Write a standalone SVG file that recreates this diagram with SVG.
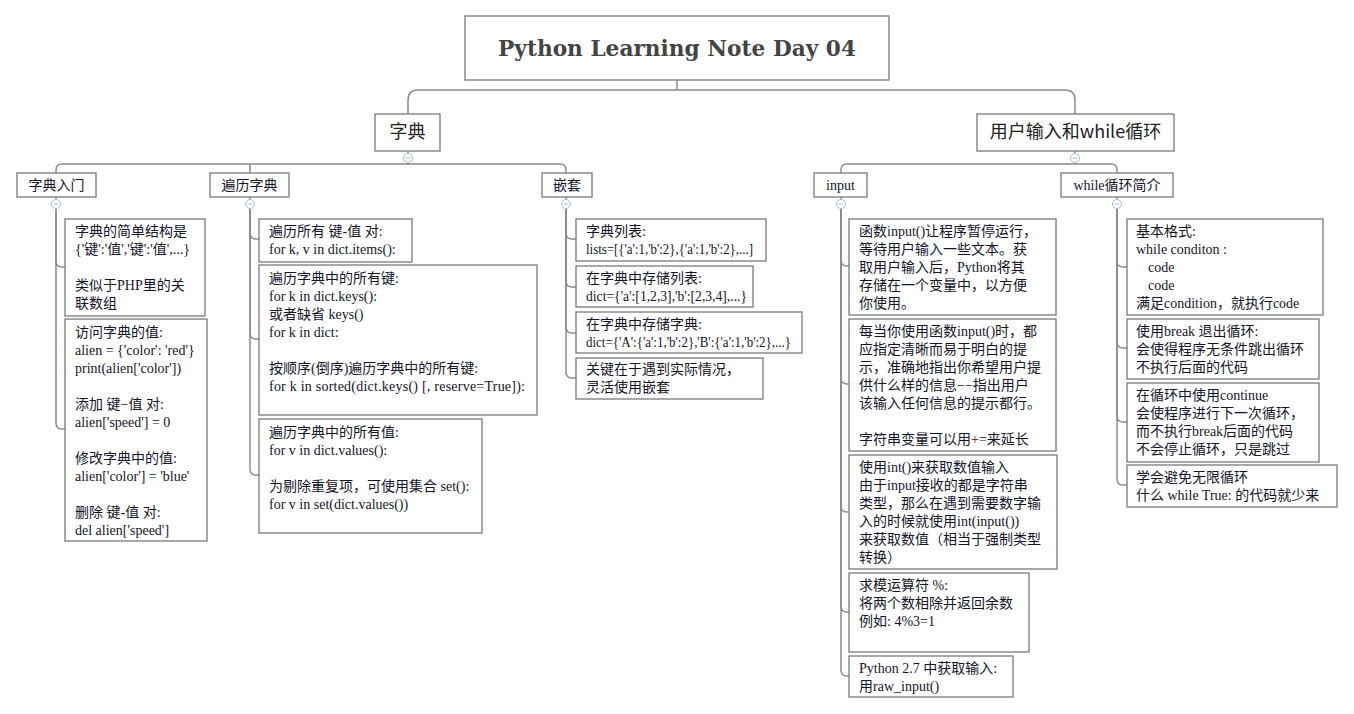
<svg xmlns="http://www.w3.org/2000/svg" width="1354" height="714" viewBox="0 0 1354 714">
<style>
.bg{fill:#fff}
.box{fill:#fff;stroke:#7a7a7a;stroke-width:1.3}
.ln{fill:none;stroke:#8c8c8c;stroke-width:1.5}
.t{font-family:"Liberation Serif","Noto Sans CJK SC",serif;font-size:14px;fill:#141428}
.h{font-family:"Noto Sans CJK SC",sans-serif;font-size:18px;fill:#222}
.title{font-family:"DejaVu Serif","Liberation Serif",serif;font-size:22px;font-weight:bold;fill:#444}
.tg{fill:#fff;stroke:#a8bcd8;stroke-width:1}
.tgm{stroke:#a8bcd8;stroke-width:1}
</style>
<rect class="bg" x="0" y="0" width="1354" height="714"/>
<g id="connectors">
<path class="ln" d="M677,80 V90"/>
<path class="ln" d="M408,114 V100 Q408,90 418,90 H1065 Q1075,90 1075,100 V114"/>
<path class="ln" d="M408,151 V164"/>
<path class="ln" d="M56,173 V170 Q56,164 62,164 H560 Q566,164 566,170 V173"/>
<path class="ln" d="M250,164 V173"/>
<path class="ln" d="M1075,151 V164"/>
<path class="ln" d="M841,173 V170 Q841,164 847,164 H1111 Q1117,164 1117,170 V173"/>
<path class="ln" d="M56,197 V209"/>
<path class="ln" d="M250,197 V209"/>
<path class="ln" d="M566,197 V209"/>
<path class="ln" d="M841,197 V209"/>
<path class="ln" d="M1117,197 V209"/>
<path class="ln" d="M56,209 V261 Q56,267 62,267 H65"/>
<path class="ln" d="M56,209 V423 Q56,429 62,429 H65"/>
<path class="ln" d="M250,209 V233 Q250,239 256,239 H259"/>
<path class="ln" d="M250,209 V333 Q250,339 256,339 H259"/>
<path class="ln" d="M250,209 V469 Q250,475 256,475 H259"/>
<path class="ln" d="M566,209 V233 Q566,239 572,239 H576"/>
<path class="ln" d="M566,209 V281 Q566,287 572,287 H576"/>
<path class="ln" d="M566,209 V327 Q566,333 572,333 H576"/>
<path class="ln" d="M566,209 V372 Q566,378 572,378 H576"/>
<path class="ln" d="M841,209 V260 Q841,266 847,266 H849"/>
<path class="ln" d="M841,209 V378 Q841,384 847,384 H849"/>
<path class="ln" d="M841,209 V506 Q841,512 847,512 H849"/>
<path class="ln" d="M841,209 V606 Q841,612 847,612 H849"/>
<path class="ln" d="M841,209 V670 Q841,676 847,676 H849"/>
<path class="ln" d="M1117,209 V261 Q1117,267 1123,267 H1127"/>
<path class="ln" d="M1117,209 V342 Q1117,348 1123,348 H1127"/>
<path class="ln" d="M1117,209 V416 Q1117,422 1123,422 H1127"/>
<path class="ln" d="M1117,209 V479 Q1117,485 1123,485 H1127"/>
</g>
<g id="toggles">
<circle class="tg" cx="408" cy="158" r="4.5"/><path class="tgm" d="M405.5,158 H410.5"/>
<circle class="tg" cx="1075" cy="158" r="4.5"/><path class="tgm" d="M1072.5,158 H1077.5"/>
<circle class="tg" cx="56" cy="204" r="4.5"/><path class="tgm" d="M53.5,204 H58.5"/>
<circle class="tg" cx="250" cy="204" r="4.5"/><path class="tgm" d="M247.5,204 H252.5"/>
<circle class="tg" cx="566" cy="204" r="4.5"/><path class="tgm" d="M563.5,204 H568.5"/>
<circle class="tg" cx="841" cy="204" r="4.5"/><path class="tgm" d="M838.5,204 H843.5"/>
<circle class="tg" cx="1117" cy="204" r="4.5"/><path class="tgm" d="M1114.5,204 H1119.5"/>
</g>
<g id="root">
<rect class="box" x="465" y="16" width="424" height="64"/>
<text class="title" x="677" y="56" text-anchor="middle" textLength="358" lengthAdjust="spacingAndGlyphs">Python Learning Note Day 04</text>
</g>
<g id="dict">
<rect class="box" x="375" y="114" width="65" height="37"/>
<text class="h" x="407.5" y="138" text-anchor="middle">字典</text>
</g>
<g id="userinput">
<rect class="box" x="977" y="114" width="197" height="37"/>
<text class="h" x="1075.5" y="138" text-anchor="middle">用户输入和while循环</text>
</g>
<g id="dict-intro">
<rect class="box" x="17" y="173" width="79" height="24"/>
<text class="t" x="56.5" y="190" text-anchor="middle">字典入门</text>
</g>
<g id="dict-iter">
<rect class="box" x="210" y="173" width="79" height="24"/>
<text class="t" x="249.5" y="190" text-anchor="middle">遍历字典</text>
</g>
<g id="nesting">
<rect class="box" x="542" y="173" width="50" height="24"/>
<text class="t" x="567" y="190" text-anchor="middle">嵌套</text>
</g>
<g id="input">
<rect class="box" x="814" y="173" width="53" height="24"/>
<text class="t" x="840.5" y="190" text-anchor="middle">input</text>
</g>
<g id="while">
<rect class="box" x="1061" y="173" width="112" height="24"/>
<text class="t" x="1117" y="190" text-anchor="middle">while循环简介</text>
</g>
<g id="intro-1">
<rect class="box" x="65" y="219" width="140" height="97"/>
<text class="t"><tspan x="75" y="236">字典的简单结构是</tspan><tspan x="75" y="254">{'键':'值','键':'值',...}</tspan><tspan x="75" y="290">类似于PHP里的关</tspan><tspan x="75" y="308">联数组</tspan></text>
</g>
<g id="intro-2">
<rect class="box" x="65" y="319" width="142" height="222"/>
<text class="t"><tspan x="75" y="337">访问字典的值:</tspan><tspan x="75" y="355">alien = {'color': 'red'}</tspan><tspan x="75" y="373">print(alien['color'])</tspan><tspan x="75" y="409">添加 键−值 对:</tspan><tspan x="75" y="427">alien['speed'] = 0</tspan><tspan x="75" y="463">修改字典中的值:</tspan><tspan x="75" y="481">alien['color'] = 'blue'</tspan><tspan x="75" y="517">删除 键-值 对:</tspan><tspan x="75" y="535">del alien['speed']</tspan></text>
</g>
<g id="iter-1">
<rect class="box" x="259" y="219" width="153" height="43"/>
<text class="t"><tspan x="269" y="236">遍历所有 键-值 对:</tspan><tspan x="269" y="254">for k, v in dict.items():</tspan></text>
</g>
<g id="iter-2">
<rect class="box" x="259" y="265" width="278" height="150"/>
<text class="t"><tspan x="269" y="283">遍历字典中的所有键:</tspan><tspan x="269" y="301">for k in dict.keys():</tspan><tspan x="269" y="319">或者缺省 keys()</tspan><tspan x="269" y="337">for k in dict:</tspan><tspan x="269" y="373">按顺序(倒序)遍历字典中的所有键:</tspan></text>
<text class="t" x="269" y="391" textLength="256" lengthAdjust="spacing">for k in sorted(dict.keys() [, reserve=True]):</text>
</g>
<g id="iter-3">
<rect class="box" x="259" y="419" width="223" height="114"/>
<text class="t"><tspan x="269" y="437">遍历字典中的所有值:</tspan><tspan x="269" y="455">for v in dict.values():</tspan><tspan x="269" y="491">为剔除重复项，可使用集合 set():</tspan><tspan x="269" y="509">for v in set(dict.values())</tspan></text>
</g>
<g id="nest-1">
<rect class="box" x="576" y="219" width="190" height="42"/>
<text class="t"><tspan x="586" y="236">字典列表:</tspan></text>
<text class="t" x="586" y="254" textLength="167" lengthAdjust="spacingAndGlyphs">lists=[{'a':1,'b':2},{'a':1,'b':2},...]</text>
</g>
<g id="nest-2">
<rect class="box" x="576" y="266" width="177" height="41"/>
<text class="t"><tspan x="586" y="283">在字典中存储列表:</tspan></text>
<text class="t" x="586" y="301" textLength="161" lengthAdjust="spacingAndGlyphs">dict={'a':[1,2,3],'b':[2,3,4],...}</text>
</g>
<g id="nest-3">
<rect class="box" x="576" y="312" width="226" height="41"/>
<text class="t"><tspan x="586" y="329">在字典中存储字典:</tspan></text>
<text class="t" x="586" y="347" textLength="205" lengthAdjust="spacingAndGlyphs">dict={'A':{'a':1,'b':2},'B':{'a':1,'b':2},...}</text>
</g>
<g id="nest-4">
<rect class="box" x="576" y="358" width="187" height="41"/>
<text class="t"><tspan x="586" y="374">关键在于遇到实际情况，</tspan><tspan x="586" y="392">灵活使用嵌套</tspan></text>
</g>
<g id="input-1">
<rect class="box" x="849" y="219" width="207" height="96"/>
<text class="t"><tspan x="859" y="236">函数input()让程序暂停运行，</tspan><tspan x="859" y="254">等待用户输入一些文本。获</tspan><tspan x="859" y="272">取用户输入后，Python将其</tspan><tspan x="859" y="290">存储在一个变量中，以方便</tspan><tspan x="859" y="308">你使用。</tspan></text>
</g>
<g id="input-2">
<rect class="box" x="849" y="319" width="207" height="132"/>
<text class="t"><tspan x="859" y="336">每当你使用函数input()时，都</tspan><tspan x="859" y="354">应指定清晰而易于明白的提</tspan><tspan x="859" y="372">示，准确地指出你希望用户提</tspan><tspan x="859" y="390">供什么样的信息−−指出用户</tspan><tspan x="859" y="408">该输入任何信息的提示都行。</tspan><tspan x="859" y="444">字符串变量可以用<tspan fill="#8b0000">+</tspan>=来延长</tspan></text>
</g>
<g id="input-3">
<rect class="box" x="849" y="455" width="208" height="114"/>
<text class="t"><tspan x="859" y="472">使用int()来获取数值输入</tspan><tspan x="859" y="490">由于input接收的都是字符串</tspan><tspan x="859" y="508">类型，那么在遇到需要数字输</tspan><tspan x="859" y="526">入的时候就使用int(input())</tspan><tspan x="859" y="544">来获取数值（相当于强制类型</tspan><tspan x="859" y="562">转换）</tspan></text>
</g>
<g id="input-4">
<rect class="box" x="849" y="573" width="180" height="79"/>
<text class="t"><tspan x="859" y="590">求模运算符 %:</tspan><tspan x="859" y="608">将两个数相除并返回余数</tspan><tspan x="859" y="626">例如: 4%3=1</tspan></text>
</g>
<g id="input-5">
<rect class="box" x="849" y="656" width="164" height="41"/>
<text class="t"><tspan x="859" y="673">Python 2.7 中获取输入:</tspan><tspan x="859" y="691">用raw_input()</tspan></text>
</g>
<g id="while-1">
<rect class="box" x="1127" y="219" width="196" height="96"/>
<text class="t"><tspan x="1136" y="236">基本格式:</tspan><tspan x="1136" y="254">while conditon :</tspan><tspan x="1148" y="272">code</tspan><tspan x="1148" y="290">code</tspan><tspan x="1136" y="308">满足condition，就执行code</tspan></text>
</g>
<g id="while-2">
<rect class="box" x="1127" y="319" width="192" height="60"/>
<text class="t"><tspan x="1136" y="336">使用break 退出循环:</tspan><tspan x="1136" y="354">会使得程序无条件跳出循环</tspan><tspan x="1136" y="372">不执行后面的代码</tspan></text>
</g>
<g id="while-3">
<rect class="box" x="1127" y="383" width="192" height="79"/>
<text class="t"><tspan x="1136" y="400">在循环中使用continue</tspan><tspan x="1136" y="418">会使程序进行下一次循环，</tspan><tspan x="1136" y="436">而不执行break后面的代码</tspan><tspan x="1136" y="454">不会停止循环，只是跳过</tspan></text>
</g>
<g id="while-4">
<rect class="box" x="1127" y="465" width="210" height="42"/>
<text class="t"><tspan x="1136" y="482">学会避免无限循环</tspan><tspan x="1136" y="500">什么 while True: 的代码就少来</tspan></text>
</g>
</svg>
